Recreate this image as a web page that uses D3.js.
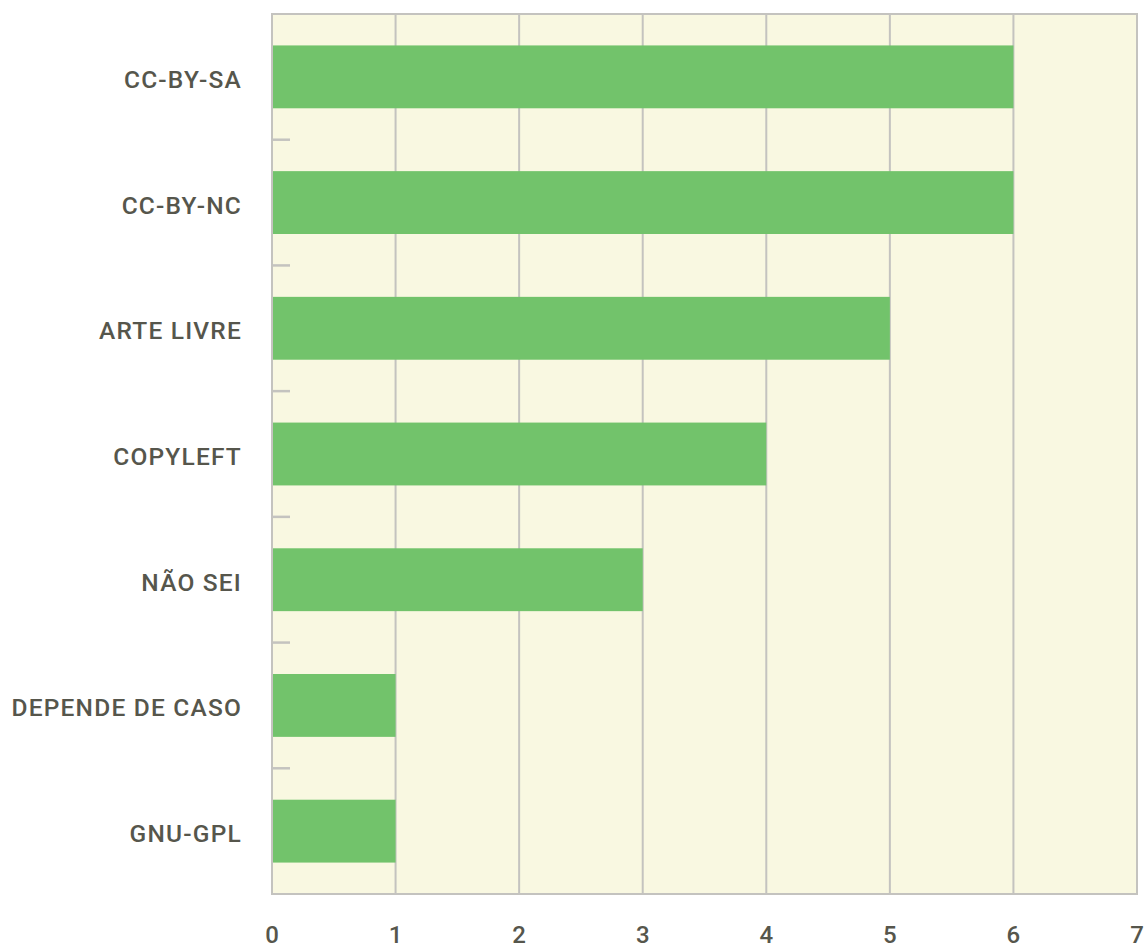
<!DOCTYPE html>
<html><head><meta charset="utf-8">
<script src="https://cdn.jsdelivr.net/npm/d3@7"></script>
<style>body{margin:0;background:#fff}svg{display:block}</style>
</head><body>
<svg id="c" width="1145" height="948"></svg>
<script>
const categories = ["CC-BY-SA","CC-BY-NC","ARTE LIVRE","COPYLEFT","NÃO SEI","DEPENDE DE CASO","GNU-GPL"];
const values = [6,6,5,4,3,1,1];
const xTicks = [0,1,2,3,4,5,6,7];

const svg = d3.select("#c");
const L = 272, R = 1137, T = 14, B = 894;
const x = d3.scaleLinear().domain([0,7]).range([L,R]);
const y = d3.scaleBand().domain(categories).range([T,B]).paddingInner(0.5).paddingOuter(0.25);
const grid = "#c4c3bf", txt = "#56564c";
const font = "Roboto,'Noto Sans',sans-serif";

svg.append("rect").attr("x",L).attr("y",T).attr("width",R-L).attr("height",B-T).attr("fill","#f9f8e1");

// vertical grid
svg.append("g").selectAll("line").data(xTicks).join("line")
  .attr("x1",d=>x(d)).attr("x2",d=>x(d)).attr("y1",T).attr("y2",B)
  .attr("stroke",grid).attr("stroke-width",2);

// bars
svg.append("g").selectAll("rect").data(categories).join("rect")
  .attr("x",L).attr("y",d=>y(d)).attr("height",y.bandwidth())
  .attr("width",(d,i)=>x(values[i])-L).attr("fill","#72c36b");

// border
svg.append("rect").attr("x",L).attr("y",T).attr("width",R-L).attr("height",B-T)
  .attr("fill","none").attr("stroke",grid).attr("stroke-width",2);

// y boundary ticks (inside)
const bounds = categories.slice(1).map(c => y(c) - y.step()*y.paddingInner()/2);
svg.append("g").selectAll("line").data(bounds).join("line")
  .attr("x1",L).attr("x2",L+18).attr("y1",d=>d).attr("y2",d=>d)
  .attr("stroke",grid).attr("stroke-width",2.5);

// y labels
svg.append("g").selectAll("text").data(categories).join("text")
  .attr("x",L-30).attr("y",d=>y(d)+y.bandwidth()/2+11)
  .attr("text-anchor","end").attr("fill",txt)
  .style("font-family",font).style("font-size","24.5px").style("font-weight","500")
  .style("letter-spacing","1.2px")
  .text(d=>d);

// x labels
svg.append("g").selectAll("text").data(xTicks).join("text")
  .attr("x",d=>x(d)).attr("y",943)
  .attr("text-anchor","middle").attr("fill",txt)
  .style("font-family",font).style("font-size","24px").style("font-weight","500")
  .text(d=>d);
</script>
</body></html>
